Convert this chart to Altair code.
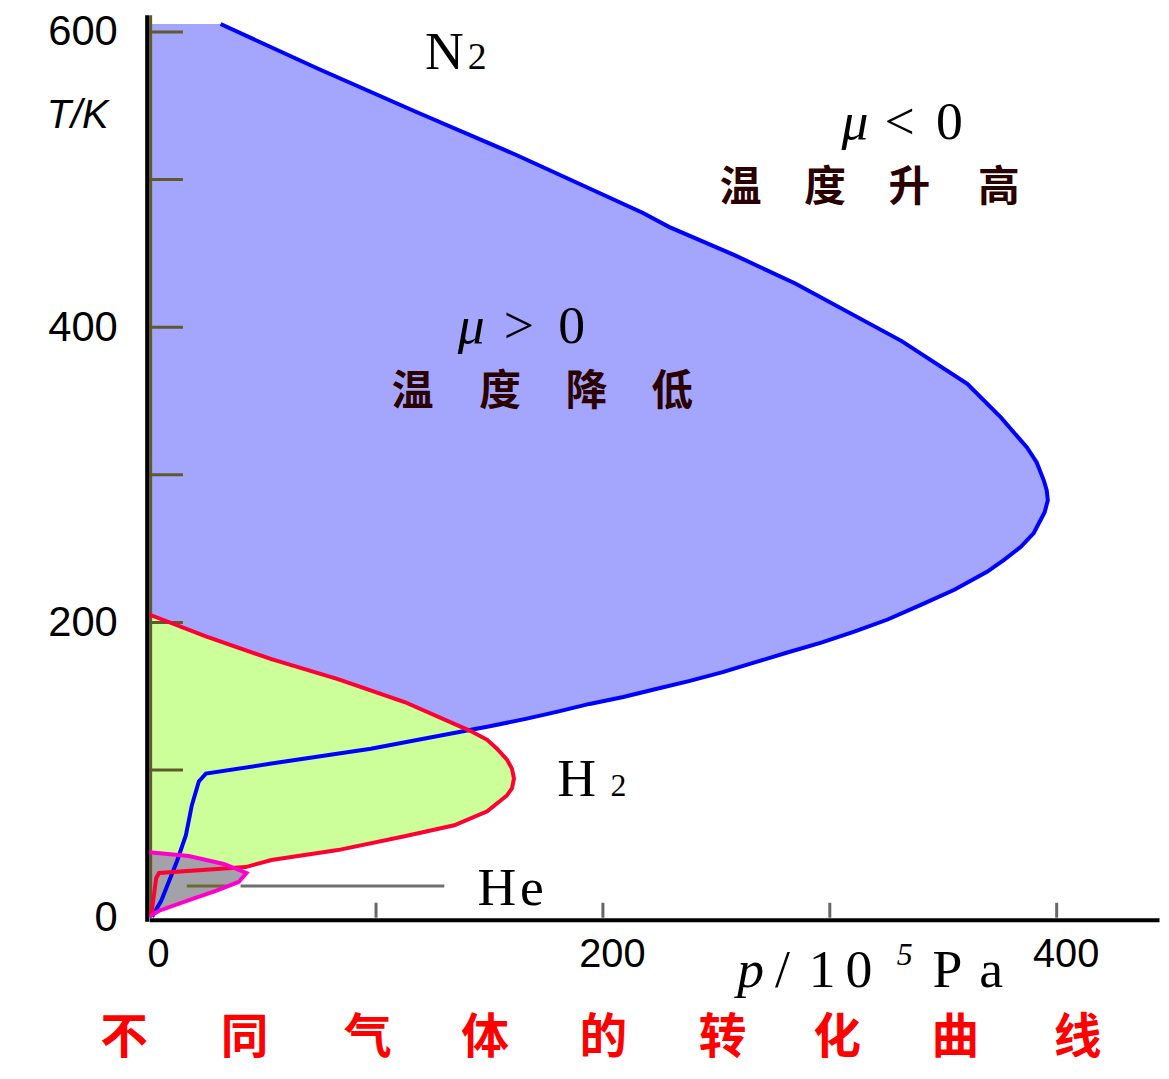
import altair as alt
import pandas as pd

# ---------------- data (p in 10^5 Pa, T in K) ----------------
# N2 inversion curve, drawing order (top -> max pressure -> bottom)
n2_p = [31.5, 74.5, 118.3, 162.1, 217.7, 229.1, 258.5, 284.8, 331.7, 360.6, 375.5, 386.9,
        391.2, 394.3, 395.6, 396.1, 394.7, 389.9, 384.2, 376.8, 369.3, 354.9, 340.4, 325.5,
        311.1, 296.6, 281.7, 267.3, 252.8, 237.9, 223.4, 209.0, 194.1, 179.6, 166.0, 149.0,
        141.9, 97.7, 53.9, 25.0, 21.9, 18.8, 16.2, 12.3, 8.8, 5.3, 1.3]
n2_T = [605.4, 575.1, 545.5, 516.5, 477.4, 468.0, 448.5, 429.6, 390.6, 361.6, 338.7, 318.5,
        308.4, 296.3, 289.6, 282.8, 274.7, 260.6, 251.2, 242.4, 234.3, 222.2, 212.1, 202.0,
        193.9, 186.5, 179.8, 173.1, 166.3, 160.3, 154.9, 149.5, 144.8, 139.4, 134.7, 129.3,
        127.3, 114.5, 104.4, 97.6, 92.3, 76.1, 55.9, 38.4, 24.9, 11.4, 0.7]

# H2 inversion curve
h2_p = [0.0, 25.0, 53.9, 83.2, 112.6, 141.5, 149.0, 153.3, 157.7, 159.9, 160.8, 159.9,
        157.7, 149.0, 134.5, 112.6, 83.2, 53.9, 42.5, 4.4, 3.1, 0.9]
h2_T = [205.4, 190.6, 175.1, 161.6, 146.1, 126.6, 120.5, 114.5, 107.1, 101.0, 94.3, 87.5,
        82.8, 72.1, 62.6, 55.2, 45.8, 39.1, 34.3, 30.3, 26.9, 1.3]

# He inversion curve
he_p = [0.0, 17.5, 32.9, 42.9, 39.4, 29.4, 16.6, 4.4, 0.0]
he_T = [44.4, 41.8, 36.4, 30.3, 24.2, 18.2, 11.4, 4.7, 0.7]

# axis ticks
x_tick_values = [100, 200, 300, 400]
y_tick_values = [100, 200, 300, 400, 500, 600]
x_label_values = [0, 200, 400]
y_label_values = [0, 200, 400, 600]

X_MAX = 445.1
T_MAX = 611.4

# ---------------- text annotations ----------------
gas_labels = pd.DataFrame({
    "t": ["N", "2", "H", "2", "H", "e"],
    "p": [130.1, 144.6, 188.4, 206.8, 153.3, 168.7],
    "T": [575.1, 575.1, 82.2, 82.2, 8.75, 8.75],
    "s": [54, 38, 54, 32, 54, 54],
})
mu_upright = pd.DataFrame({
    "t": ["<", "0", ">", "0"],
    "p": [330.8, 352.7, 163.0, 186.2],
    "T": [527.3, 527.3, 389.2, 389.2],
})
mu_italic = pd.DataFrame({"t": ["μ", "μ"], "p": [311.1, 141.9], "T": [527.3, 389.2]})
cn_labels = pd.DataFrame({
    "t": list("温度升高") + list("温度降低"),
    "p": [260.7, 297.9, 335.1, 374.5, 116.1, 154.7, 192.8, 230.5],
    "T": [494.3] * 4 + [356.2] * 4,
})
title_chars = pd.DataFrame({
    "t": list("不同气体的转化曲线"),
    "p": [-11.0, 42.1, 96.4, 148.1, 200.2, 252.8, 303.2, 355.3, 409.2],
    "T": [-91.6] * 9,
})
xtitle_main = pd.DataFrame({
    "t": ["/", "1", "0", "P", "a"],
    "p": [279.1, 296.6, 312.8, 351.8, 371.1],
    "T": [-47.1] * 5,
})
xtitle_p = pd.DataFrame({"t": ["p"], "p": [265.1], "T": [-47.1]})
xtitle_sup = pd.DataFrame({"t": ["5"], "p": [333.0], "T": [-32.3]})
ytitle = pd.DataFrame({"t": ["T/K"], "p": [-31.5], "T": [542.8]})

# ---------------- chart ----------------
xs = alt.Scale(domain=[0, X_MAX], nice=False, zero=False)
ys = alt.Scale(domain=[0, T_MAX], nice=False, zero=False)

x_axis = alt.Axis(values=x_label_values, ticks=False, tickSize=0, domain=True, domainColor="black",
                  domainWidth=4, offset=2, grid=False, title=None, labelFont="Liberation Sans",
                  labelFontSize=40, labelColor="black", labelPadding=15, labelOffset=9,
                  labelFlush=False)
y_axis = alt.Axis(values=y_label_values, ticks=False, tickSize=0, domain=False, grid=False,
                  title=None, labelFont="Liberation Sans", labelFontSize=42, labelColor="black",
                  labelPadding=32)


def X(field="p", **kw):
    return alt.X(f"{field}:Q", scale=xs, axis=x_axis, **kw)


def Y(field="T"):
    return alt.Y(f"{field}:Q", scale=ys, axis=y_axis)


def curve_df(p, T):
    return pd.DataFrame({"p": p, "T": T, "i": list(range(len(p)))})


n2 = curve_df(n2_p, n2_T)
h2 = curve_df(h2_p, h2_T)
he = curve_df(he_p, he_T)


def area(df, color):
    d = df.sort_values("T").reset_index(drop=True)
    return alt.Chart(d).mark_area(orient="horizontal", color=color, opacity=1,
                                  interpolate="linear").encode(
        x=X(stack=None), y=Y())


def line(df, color):
    return alt.Chart(df).mark_line(color=color, strokeWidth=4, interpolate="linear").encode(
        x=X(), y=Y(), order=alt.Order("i:Q"))


def text(df, font, size, color="black", style="normal", weight="normal", baseline="alphabetic"):
    enc = dict(x=X(), y=Y(), text="t:N")
    if isinstance(size, str):
        enc["size"] = alt.Size(f"{size}:Q", scale=None, legend=None)
        mk = alt.Chart(df).mark_text(font=font, color=color, fontStyle=style, fontWeight=weight,
                                     baseline=baseline, align="center")
    else:
        mk = alt.Chart(df).mark_text(font=font, fontSize=size, color=color, fontStyle=style,
                                     fontWeight=weight, baseline=baseline, align="center")
    return mk.encode(**enc)


# rules: axis line, ticks, He leader
yaxis_line = pd.DataFrame({"p": [-0.88], "T": [-2.7], "T2": [T_MAX]})
olive_strip = pd.DataFrame({"p": [0.66], "T": [0.0], "T2": [T_MAX]})
yticks = pd.DataFrame({"T": y_tick_values, "p": [0.0] * 6, "p2": [14.9] * 6})
xticks = pd.DataFrame({"p": x_tick_values, "T": [0.0] * 4, "T2": [10.1] * 4})
leader_olive = pd.DataFrame({"p": [16.6], "p2": [33.7], "T": [21.5]})
leader_gray = pd.DataFrame({"p": [40.3], "p2": [130.1], "T": [21.5]})

layers = [
    area(n2, "#a4a5fc"),
    area(h2, "#ccff99"),
    area(he, "#a2a2a8"),
    alt.Chart(olive_strip).mark_rule(color="#5f5a2c", strokeWidth=3).encode(x=X(), y=Y(), y2="T2:Q"),
    alt.Chart(yticks).mark_rule(color="#5f5a2c", strokeWidth=3).encode(x=X(), x2="p2:Q", y=Y()),
    alt.Chart(xticks).mark_rule(color="#666666", strokeWidth=3).encode(x=X(), y=Y(), y2="T2:Q"),
    alt.Chart(leader_olive).mark_rule(color="#6b6a34", strokeWidth=3).encode(x=X(), x2="p2:Q", y=Y()),
    alt.Chart(leader_gray).mark_rule(color="#707070", strokeWidth=3).encode(x=X(), x2="p2:Q", y=Y()),
    line(n2, "#0000ff"),
    line(h2, "#ff0033"),
    line(he, "#ff00cc"),
    alt.Chart(yaxis_line).mark_rule(color="black", strokeWidth=4).encode(x=X(), y=Y(), y2="T2:Q"),
    text(gas_labels, "Liberation Serif", "s"),
    text(mu_upright, "Liberation Serif", 54),
    text(mu_italic, "Liberation Serif", 54, style="italic"),
    text(cn_labels, "Noto Sans CJK SC", 42, color="#2a0000", weight="bold", baseline="middle"),
    text(title_chars, "Noto Sans CJK SC", 48, color="#ff0000", weight="bold"),
    text(xtitle_main, "Liberation Serif", 54),
    text(xtitle_p, "Liberation Serif", 54, style="italic"),
    text(xtitle_sup, "Liberation Serif", 32, style="italic"),
    text(ytitle, "Liberation Sans", 40, style="italic", baseline="middle"),
]

chart = alt.layer(*layers).properties(
    width=1016, height=908,
    padding={"left": 142, "top": 4, "right": 2, "bottom": 146},
    autosize=alt.AutoSizeParams(type="none"),
    background="white",
).configure_view(stroke=None)

chart.save("out.html", embed_options={"renderer": "svg", "actions": False})
